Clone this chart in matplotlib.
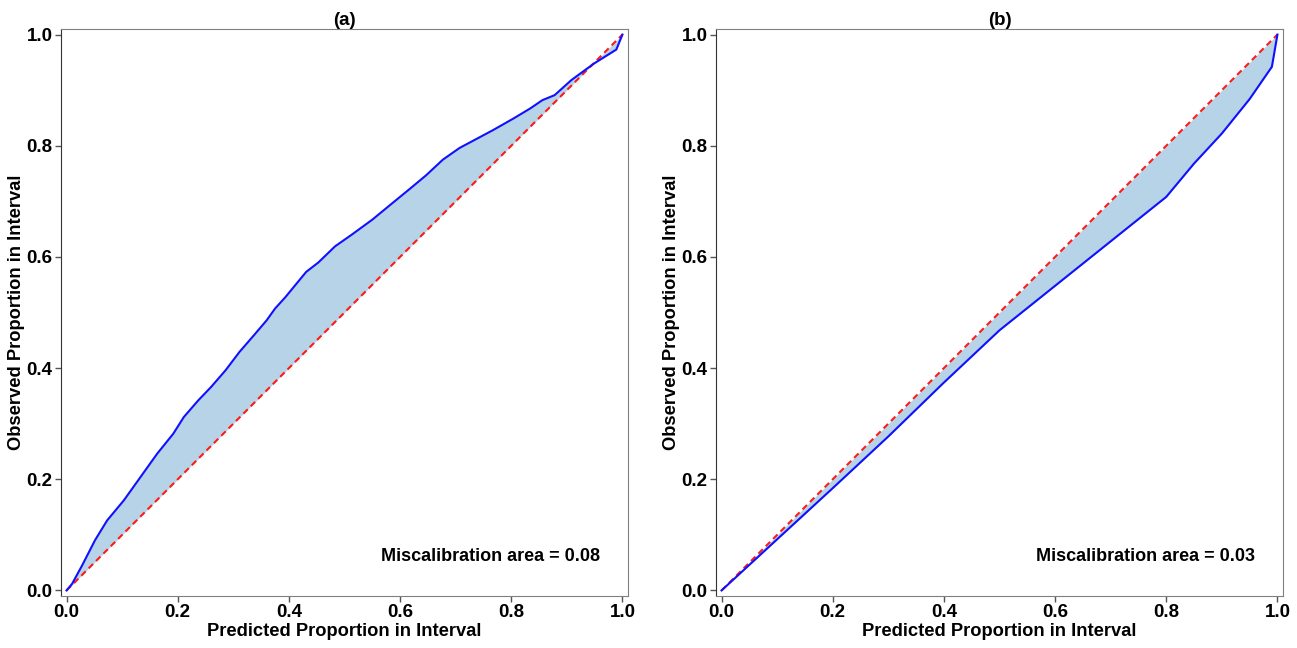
import matplotlib
matplotlib.use("Agg")
import matplotlib.pyplot as plt
import numpy as np

plt.rcParams['font.family'] = ['Liberation Sans', 'DejaVu Sans']
plt.rcParams['font.weight'] = 'bold'

# Panel (a) calibration curve
pred_a = [0.0, 0.010, 0.028, 0.051, 0.073, 0.103, 0.133, 0.163, 0.192, 0.211,
          0.237, 0.260, 0.286, 0.311, 0.337, 0.360, 0.375, 0.394, 0.431, 0.453,
          0.483, 0.513, 0.550, 0.584, 0.617, 0.647, 0.677, 0.707, 0.737, 0.767,
          0.804, 0.834, 0.856, 0.878, 0.908, 0.949, 0.989, 1.0]
obs_a = [0.0, 0.012, 0.045, 0.090, 0.126, 0.162, 0.204, 0.246, 0.282, 0.312,
         0.342, 0.366, 0.396, 0.429, 0.459, 0.486, 0.507, 0.528, 0.573, 0.590,
         0.619, 0.640, 0.667, 0.695, 0.722, 0.747, 0.775, 0.796, 0.812, 0.828,
         0.849, 0.867, 0.882, 0.891, 0.918, 0.948, 0.973, 1.0]

# Panel (b) calibration curve
pred_b = [0.0, 0.1, 0.2, 0.3, 0.4, 0.5, 0.6, 0.7, 0.8, 0.85, 0.9, 0.95, 0.99, 1.0]
obs_b = [0.0, 0.092, 0.184, 0.277, 0.374, 0.468, 0.548, 0.628, 0.708, 0.768,
         0.822, 0.884, 0.942, 1.0]

titles = ["(a)", "(b)"]
areas = ["Miscalibration area = 0.08", "Miscalibration area = 0.03"]
ticks = [0.0, 0.2, 0.4, 0.6, 0.8, 1.0]

fig = plt.figure(figsize=(12.97, 6.48), dpi=100)
W, H = 1297, 648
ax_a = fig.add_axes([61 / W, 1 - 596 / H, 567 / W, 567 / H])
ax_b = fig.add_axes([716 / W, 1 - 596 / H, 567 / W, 567 / H])

for ax, px, py, title, area in zip([ax_a, ax_b], [pred_a, pred_b], [obs_a, obs_b], titles, areas):
    px = np.array(px)
    py = np.array(py)
    ax.fill_between(px, px, py, color='#b7d3e8', linewidth=0)
    ax.plot([0, 1], [0, 1], color='#ff1a1a', linestyle='--', linewidth=1.5, dashes=(3, 2))
    ax.plot(px, py, color='#1010ff', linewidth=1.5)
    ax.set_xlim(-0.01, 1.01)
    ax.set_ylim(-0.01, 1.01)
    ax.set_xticks(ticks)
    ax.set_yticks(ticks)
    ax.set_xticklabels([f"{t:.1f}" for t in ticks], fontsize=13.5, fontweight='bold')
    ax.set_yticklabels([f"{t:.1f}" for t in ticks], fontsize=13.5, fontweight='bold')
    ax.tick_params(length=4, width=1, color='#555555', pad=2)
    ax.set_xlabel("Predicted Proportion in Interval", fontsize=13.2, fontweight='bold', labelpad=1)
    ax.set_ylabel("Observed Proportion in Interval", fontsize=13.2, fontweight='bold')
    ax.yaxis.set_label_coords(-0.064, 0.5)
    ax.set_title(title, fontsize=13.5, fontweight='bold', pad=3)
    ax.text(0.95, 0.07, area, transform=ax.transAxes, ha='right', va='center',
            fontsize=13, fontweight='bold')
    for s in ['top', 'right', 'bottom']:
        ax.spines[s].set_color('#808080')
    ax.spines['left'].set_color('#333333')

fig.savefig("out.png", dpi=100)
